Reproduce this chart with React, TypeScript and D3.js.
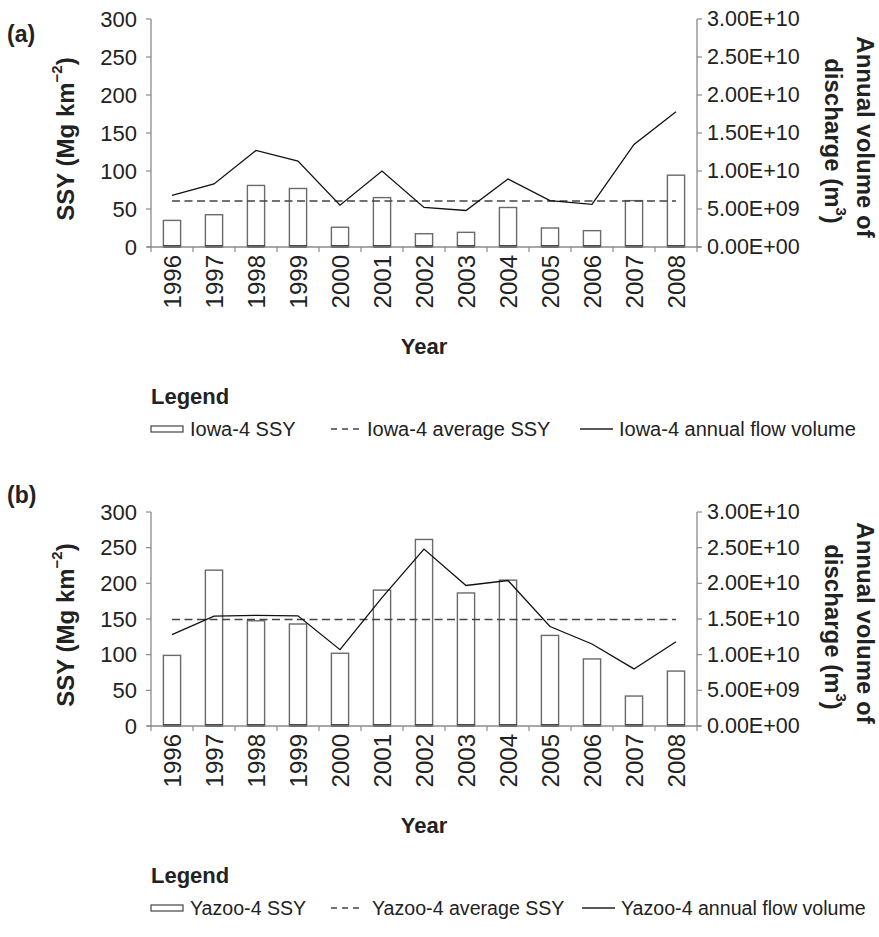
import React from "react";
import * as d3 from "d3";

const years = ["1996","1997","1998","1999","2000","2001","2002","2003","2004","2005","2006","2007","2008"];
const leftTicks = [0, 50, 100, 150, 200, 250, 300];
const rightTicks = [0, 5e9, 1e10, 1.5e10, 2e10, 2.5e10, 3e10];
const rightTickLabels = ["0.00E+00","5.00E+09","1.00E+10","1.50E+10","2.00E+10","2.50E+10","3.00E+10"];

const iowaSSY = [35, 42.5, 81, 77, 26, 65, 17.5, 19.3, 52, 25, 21.5, 61, 94.5];
const iowaAvg = 60.5;
const iowaFlow = [6.8e9, 8.3e9, 12.7e9, 11.3e9, 5.5e9, 10.0e9, 5.2e9, 4.8e9, 8.95e9, 6.1e9, 5.6e9, 13.5e9, 17.8e9];
const iowaLegend = ["Iowa-4 SSY", "Iowa-4 average SSY", "Iowa-4 annual flow volume"];

const yazooSSY = [99, 218.5, 147.5, 143, 102, 190.5, 261.5, 186.5, 204.5, 127, 94, 42, 77];
const yazooAvg = 149.3;
const yazooFlow = [12.8e9, 15.4e9, 15.5e9, 15.45e9, 10.7e9, 18e9, 24.8e9, 19.7e9, 20.4e9, 13.95e9, 11.5e9, 8.0e9, 11.8e9];
const yazooLegend = ["Yazoo-4 SSY", "Yazoo-4 average SSY", "Yazoo-4 annual flow volume"];

const SANS = "'Liberation Sans', Arial, sans-serif";

type PanelProps = {
  label: string;
  labelY: number;
  top: number;
  bottom: number;
  ssy: number[];
  avg: number;
  flow: number[];
  legend: string[];
  legendX: number[];
  legendSize: number;
};

function Panel({ label, labelY, top, bottom, ssy, avg, flow, legend, legendX, legendSize }: PanelProps) {
  const x0 = 151, x1 = 697;
  const x = d3.scaleBand<string>().domain(years).range([x0, x1]).paddingInner(0).paddingOuter(0);
  const yL = d3.scaleLinear().domain([0, 300]).range([bottom, top]);
  const yR = d3.scaleLinear().domain([0, 3e10]).range([bottom, top]);
  const bw = x.bandwidth();
  const barW = bw * 0.41;
  const cx = (y: string) => (x(y) as number) + bw / 2;
  const line = d3.line<number>().x((_, i) => cx(years[i])).y(v => yR(v));
  const axisGrey = "#8a8a8a";
  const midY = (top + bottom) / 2;
  const legendTitleY = bottom + 157;
  const legendRowY = bottom + 182;
  const boundaries = years.map(y => x(y) as number).concat([x1]);
  return (
    <g>
      <text x={7} y={labelY} fontFamily={SANS} fontWeight="bold" fontSize={23} fill="#222">{label}</text>
      {/* left title */}
      <text transform={`translate(65,${midY + 6}) rotate(-90)`} textAnchor="middle" dominantBaseline="central"
        fontFamily={SANS} fontWeight="bold" fontSize={24} fill="#222">
        SSY (Mg km<tspan dy={-9} fontSize={15}>−2</tspan><tspan dy={9}>)</tspan>
      </text>
      {/* right title */}
      <g transform={`translate(865,${midY + 4}) rotate(90)`}>
        <text textAnchor="middle" dominantBaseline="central" fontFamily={SANS} fontWeight="bold" fontSize={24} fill="#222">Annual volume of</text>
      </g>
      <g transform={`translate(833,${midY + 8}) rotate(90)`}>
        <text textAnchor="middle" dominantBaseline="central" fontFamily={SANS} fontWeight="bold" fontSize={24} fill="#222">
          discharge (m<tspan dy={-9} fontSize={15}>3</tspan><tspan dy={9}>)</tspan>
        </text>
      </g>
      {/* bars */}
      {ssy.map((v, i) => {
        const bx = cx(years[i]) - barW / 2;
        return (
          <g key={i}>
            <rect x={bx} y={yL(v)} width={barW} height={bottom - yL(v)} fill="white" stroke="#6a6a6a" strokeWidth={1.4} />
            <line x1={bx} x2={bx + barW} y1={bottom - 0.5} y2={bottom - 0.5} stroke="#111" strokeWidth={2.5} />
          </g>
        );
      })}
      {/* average */}
      <line x1={cx(years[0])} x2={cx(years[years.length - 1])} y1={yL(avg)} y2={yL(avg)} stroke="#444" strokeWidth={1.5} strokeDasharray="8,4.5" />
      {/* flow */}
      <path d={line(flow) || ""} fill="none" stroke="#111" strokeWidth={1.3} />
      {/* axes */}
      <line x1={x0} x2={x0} y1={top} y2={bottom} stroke={axisGrey} strokeWidth={1.3} />
      <line x1={x1} x2={x1} y1={top} y2={bottom} stroke={axisGrey} strokeWidth={1.3} />
      <line x1={x0 - 4} x2={x1 + 4} y1={bottom} y2={bottom} stroke={axisGrey} strokeWidth={1.5} />
      {leftTicks.map(t => (
        <g key={"l" + t}>
          <line x1={x0 - 5} x2={x0} y1={yL(t)} y2={yL(t)} stroke={axisGrey} strokeWidth={1.2} />
          <text x={x0 - 14} y={yL(t)} textAnchor="end" dominantBaseline="central" fontFamily={SANS} fontSize={22} fill="#222">{t}</text>
        </g>
      ))}
      {rightTicks.map((t, i) => (
        <g key={"r" + t}>
          <line x1={x1} x2={x1 + 5} y1={yR(t)} y2={yR(t)} stroke={axisGrey} strokeWidth={1.2} />
          <text x={x1 + 10} y={yR(t)} textAnchor="start" dominantBaseline="central" fontFamily={SANS} fontSize={21.5} fill="#222">{rightTickLabels[i]}</text>
        </g>
      ))}
      {boundaries.map((b, i) => (
        <line key={"b" + i} x1={b} x2={b} y1={bottom} y2={bottom + 5} stroke={axisGrey} strokeWidth={1.2} />
      ))}
      {years.map(y => (
        <text key={y} transform={`translate(${cx(y)},${bottom + 8}) rotate(-90)`} textAnchor="end" dominantBaseline="central"
          fontFamily={SANS} fontSize={24} fill="#222">{y}</text>
      ))}
      <text x={(x0 + x1) / 2} y={bottom + 107} textAnchor="middle" fontFamily={SANS} fontWeight="bold" fontSize={22} fill="#222">Year</text>
      {/* legend */}
      <text x={151} y={legendTitleY} fontFamily={SANS} fontWeight="bold" fontSize={22} fill="#222">Legend</text>
      <rect x={legendX[0]} y={legendRowY - 3} width={32} height={6} fill="white" stroke="#444" strokeWidth={1.2} />
      <text x={legendX[1]} y={legendRowY} dominantBaseline="central" fontFamily={SANS} fontSize={legendSize} fill="#222">{legend[0]}</text>
      <line x1={legendX[2]} x2={legendX[2] + 30} y1={legendRowY} y2={legendRowY} stroke="#444" strokeWidth={1.4} strokeDasharray="6,5" />
      <text x={legendX[3]} y={legendRowY} dominantBaseline="central" fontFamily={SANS} fontSize={legendSize} fill="#222">{legend[1]}</text>
      <line x1={legendX[4]} x2={legendX[4] + 33} y1={legendRowY} y2={legendRowY} stroke="#222" strokeWidth={1.3} />
      <text x={legendX[5]} y={legendRowY} dominantBaseline="central" fontFamily={SANS} fontSize={legendSize} fill="#222">{legend[2]}</text>
    </g>
  );
}

export default function App() {
  return (
    <svg width={879} height={937} style={{ position: "absolute", left: 0, top: 0, background: "white" }}>
      <rect width={879} height={937} fill="white" />
      <Panel label="(a)" labelY={42} top={19} bottom={247} ssy={iowaSSY} avg={iowaAvg} flow={iowaFlow} legend={iowaLegend}
        legendX={[151, 190, 331, 367, 580, 619]} legendSize={20} />
      <Panel label="(b)" labelY={503} top={512} bottom={726} ssy={yazooSSY} avg={yazooAvg} flow={yazooFlow} legend={yazooLegend}
        legendX={[151, 190, 331, 372, 582, 621]} legendSize={19.6} />
    </svg>
  );
}
